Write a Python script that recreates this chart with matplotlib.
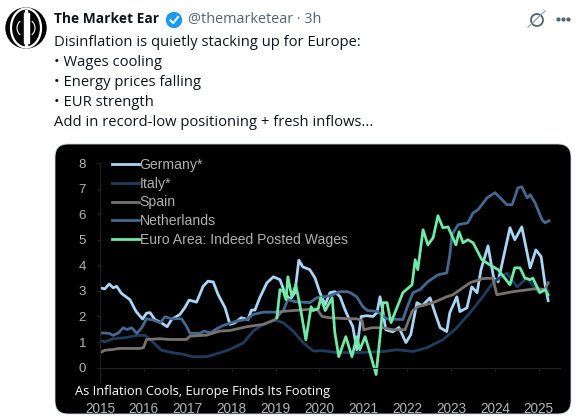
#!/usr/bin/env python3
"""Tweet screenshot with a wage growth chart for Europe."""

import matplotlib
matplotlib.use("Agg")
import matplotlib.pyplot as plt
from matplotlib.patches import Arc, Circle, Ellipse, FancyBboxPatch, Rectangle

W, H = 588, 418

tweet_lines = [
    "Disinflation is quietly stacking up for Europe:",
    "• Wages cooling",
    "• Energy prices falling",
    "• EUR strength",
    "Add in record-low positioning + fresh inflows...",
]
y_ticks = [0, 1, 2, 3, 4, 5, 6, 7, 8]
x_ticks = [2015, 2016, 2017, 2018, 2019, 2020, 2021, 2022, 2023, 2024, 2025]

germany_x = [2015.00, 2015.11, 2015.21, 2015.30, 2015.38, 2015.49, 2015.68, 2015.82, 2015.97,
             2016.06, 2016.14, 2016.25, 2016.40, 2016.53, 2016.63, 2016.82, 2016.93, 2017.03,
             2017.20, 2017.35, 2017.46, 2017.58, 2017.69, 2017.85, 2017.96, 2018.07, 2018.22,
             2018.37, 2018.45, 2018.53, 2018.64, 2018.80, 2018.95, 2019.10, 2019.21, 2019.33,
             2019.44, 2019.53, 2019.62, 2019.78, 2019.90, 2020.01, 2020.13, 2020.24, 2020.35,
             2020.47, 2020.58, 2020.65, 2020.76, 2020.85, 2020.95, 2021.08, 2021.22, 2021.31,
             2021.38, 2021.45, 2021.51, 2021.67, 2021.81, 2021.97, 2022.08, 2022.22, 2022.34,
             2022.52, 2022.63, 2022.75, 2022.90, 2022.97, 2023.13, 2023.20, 2023.36, 2023.47,
             2023.59, 2023.68, 2023.84, 2023.97, 2024.07, 2024.34, 2024.45, 2024.61, 2024.80,
             2024.93, 2025.05, 2025.14, 2025.21]
germany_y = [3.12, 3.08, 3.27, 3.12, 3.18, 2.90, 2.66, 2.20, 1.90,
             2.13, 2.15, 1.88, 1.75, 1.60, 1.88, 2.08, 2.34, 2.64,
             2.56, 3.18, 3.38, 3.35, 2.86, 2.34, 1.69, 1.75, 1.95,
             1.88, 2.25, 2.25, 2.73, 3.31, 3.55, 3.44, 2.93, 2.66,
             2.93, 4.20, 3.94, 3.83, 3.50, 2.93, 2.46, 2.93, 2.97,
             2.77, 2.27, 2.00, 1.60, 0.70, 2.00, 2.03, 2.00, 2.15,
             2.77, 2.15, 1.48, 1.40, 1.57, 0.98, 1.29, 2.54, 2.42,
             2.73, 2.15, 1.56, 1.41, 2.15, 2.77, 2.19, 2.34, 3.16,
             2.93, 3.83, 4.76, 3.50, 3.36, 5.47, 5.00, 5.50, 3.90,
             4.60, 4.34, 3.24, 2.62]

italy_x = [2015.00, 2015.11, 2015.30, 2015.57, 2015.84, 2016.03, 2016.18, 2016.40, 2016.67,
           2016.90, 2017.13, 2017.43, 2017.73, 2017.96, 2018.27, 2018.49, 2018.72, 2018.99,
           2019.18, 2019.40, 2019.63, 2019.86, 2020.08, 2020.40, 2020.92, 2021.45, 2021.77,
           2022.13, 2022.45, 2022.81, 2023.13, 2023.43, 2023.72, 2023.95, 2024.27, 2024.50,
           2024.73, 2024.98, 2025.21]
italy_y = [1.06, 1.01, 1.13, 1.17, 1.26, 1.26, 1.04, 0.68, 0.58,
           0.52, 0.42, 0.43, 0.58, 0.71, 0.97, 1.43, 1.69, 1.86,
           1.75, 1.43, 0.97, 0.65, 0.66, 0.59, 0.59, 0.63, 0.70,
           0.63, 0.78, 1.09, 1.56, 2.15, 2.77, 3.32, 3.70, 3.16,
           3.50, 2.97, 3.00]

spain_x = [2015.00, 2015.11, 2015.30, 2015.42, 2015.91, 2015.99, 2016.06, 2016.37, 2016.59,
           2016.97, 2017.05, 2017.43, 2017.73, 2017.96, 2018.34, 2018.72, 2018.99, 2019.14,
           2019.40, 2019.94, 2020.06, 2020.24, 2020.65, 2020.85, 2020.97, 2021.01, 2021.20,
           2021.45, 2021.67, 2021.95, 2022.11, 2022.24, 2022.59, 2022.90, 2023.04, 2023.43,
           2023.72, 2023.95, 2024.04, 2024.41, 2024.95, 2025.14, 2025.21]
spain_y = [0.58, 0.68, 0.71, 0.75, 0.75, 0.78, 1.10, 1.13, 1.10,
           1.10, 1.23, 1.27, 1.43, 1.45, 1.60, 1.69, 1.88, 2.20,
           2.23, 2.30, 2.00, 1.95, 1.91, 1.91, 1.84, 1.48, 1.56,
           1.56, 1.48, 1.48, 2.20, 2.38, 2.54, 2.77, 2.85, 3.32,
           3.48, 3.50, 2.85, 2.97, 3.09, 3.05, 3.32]

netherlands_x = [2015.00, 2015.21, 2015.30, 2015.42, 2015.53, 2015.62, 2015.72, 2015.84, 2015.95,
                 2016.06, 2016.21, 2016.37, 2016.48, 2016.63, 2016.86, 2016.97, 2017.05, 2017.28,
                 2017.37, 2017.51, 2017.66, 2017.81, 2018.11, 2018.34, 2018.49, 2018.72, 2019.02,
                 2019.17, 2019.28, 2019.44, 2019.62, 2019.78, 2019.94, 2020.24, 2020.47, 2020.63,
                 2020.70, 2020.85, 2020.99, 2021.10, 2021.31, 2021.42, 2021.54, 2021.90, 2022.02,
                 2022.13, 2022.29, 2022.47, 2022.70, 2022.90, 2022.97, 2023.02, 2023.16, 2023.38,
                 2023.50, 2023.61, 2023.82, 2024.00, 2024.27, 2024.39, 2024.52, 2024.61, 2024.73,
                 2024.80, 2024.91, 2025.07, 2025.14, 2025.23]
netherlands_y = [1.36, 1.34, 1.26, 1.36, 1.56, 1.49, 1.56, 1.34, 1.56,
                 1.91, 1.86, 1.75, 1.99, 1.91, 1.91, 1.62, 1.34, 1.34,
                 1.43, 1.36, 1.52, 1.65, 1.82, 1.88, 2.08, 2.17, 2.17,
                 2.20, 2.66, 2.58, 2.56, 2.54, 2.73, 2.81, 2.97, 2.97,
                 2.93, 2.77, 2.38, 2.23, 2.20, 2.07, 1.90, 1.88, 2.46,
                 2.93, 3.05, 3.36, 3.63, 3.70, 4.41, 5.20, 5.59, 5.66,
                 6.05, 6.17, 6.64, 6.84, 6.37, 6.37, 7.03, 7.07, 6.64,
                 6.76, 6.45, 5.78, 5.66, 5.74]

euro_x = [2019.03, 2019.10, 2019.17, 2019.24, 2019.28, 2019.37, 2019.46, 2019.56, 2019.69,
          2019.81, 2019.85, 2019.97, 2020.03, 2020.13, 2020.29, 2020.35, 2020.44, 2020.60,
          2020.74, 2020.85, 2020.92, 2021.04, 2021.13, 2021.29, 2021.38, 2021.45, 2021.54,
          2021.63, 2021.90, 2022.11, 2022.18, 2022.24, 2022.36, 2022.47, 2022.59, 2022.70,
          2022.81, 2022.93, 2023.11, 2023.18, 2023.27, 2023.38, 2023.50, 2023.70, 2023.88,
          2024.07, 2024.34, 2024.45, 2024.57, 2024.68, 2024.80, 2024.86, 2025.02, 2025.14,
          2025.21]
euro_y = [1.95, 3.05, 3.00, 2.66, 3.55, 2.77, 3.24, 2.38, 1.09,
          2.38, 2.23, 2.30, 2.73, 2.23, 2.73, 1.37, 0.43, 1.21,
          0.43, 1.21, 0.70, 1.21, 0.70, -0.27, 1.21, 2.54, 2.54,
          1.76, 2.93, 3.24, 4.22, 3.83, 5.39, 4.80, 5.08, 5.94,
          5.47, 5.50, 4.80, 5.31, 4.88, 5.00, 4.88, 4.22, 4.02,
          3.83, 3.24, 3.90, 3.90, 3.50, 3.44, 3.50, 2.93, 3.05,
          2.85]

TWEET_FONT = ["Open Sans", "DejaVu Sans"]


def draw_avatar(bg):
    """Black round logo with the white column and arcs."""
    bg.add_patch(Circle((26, 28), 20, color="black", zorder=2))
    bg.add_patch(Ellipse((26, 28), 30, 39, fill=False, ec="white", lw=1.6, zorder=3))
    bg.add_patch(Rectangle((23.5, 13), 5, 30, color="white", zorder=3))
    bg.add_patch(Rectangle((24.8, 9.5), 2.4, 37, color="white", zorder=3))
    bg.add_patch(Arc((26, 28), 18, 18, theta1=130, theta2=230, ec="white", lw=0.8, zorder=3))
    bg.add_patch(Arc((26, 28), 18, 18, theta1=-50, theta2=50, ec="white", lw=0.8, zorder=3))


def draw_header(bg):
    """Avatar, name line, icons and tweet text, in pixel coordinates."""
    draw_avatar(bg)

    bg.text(54, 19, "The Market Ear", family=TWEET_FONT, fontsize=9.9, fontweight="bold",
            color="#0f1419", va="center")
    bg.add_patch(Circle((174, 20), 7.5, color="#1d9bf0", zorder=2))
    bg.plot([170.5, 173.3, 178], [20.3, 23, 17], color="white", lw=1.4, zorder=3)
    bg.text(188, 19, "@themarketear · 3h", family=TWEET_FONT, fontsize=10.4,
            color="#536471", va="center")

    # Grok style slashed circle and the three dots
    bg.add_patch(Circle((537, 20), 6, fill=False, ec="#536471", lw=1.3))
    bg.plot([528, 545], [27, 11], color="#8b98a5", lw=0.8)
    bg.scatter([558, 563, 568], [19, 19, 19], s=4, color="#536471")

    for i, line in enumerate(tweet_lines):
        bg.text(54, 43 + i * 20, line, family=TWEET_FONT, fontsize=10.6, color="#0f1419",
                va="center")


def draw_chart(ax):
    """The wage series on the black panel."""
    ax.plot(germany_x, germany_y, color="#a9d5f7", lw=2.0, label="Germany*")
    ax.plot(italy_x, italy_y, color="#1e3d5c", lw=2.0, label="Italy*")
    ax.plot(netherlands_x, netherlands_y, color="#44688f", lw=2.0, label="Netherlands")
    ax.plot(spain_x, spain_y, color="#77726e", lw=2.0, label="Spain")
    ax.plot(euro_x, euro_y, color="#70e8a6", lw=2.0, label="Euro Area: Indeed Posted Wages")

    ax.set_xlim(2015, 2025.48)
    ax.set_ylim(-1.5, 8)
    ax.patch.set_alpha(0)
    for name in ("top", "right"):
        ax.spines[name].set_visible(False)
    ax.spines["left"].set_color("#222222")
    ax.spines["left"].set_bounds(-0.55, 8)
    ax.spines["bottom"].set_position(("data", 0))
    ax.spines["bottom"].set_color("#222222")

    ax.set_xticks(x_ticks)
    ax.set_yticks(y_ticks)
    ax.tick_params(axis="x", colors="#222222", length=2, direction="out", pad=23,
                   labelcolor="#b4b4b4", labelsize=9.8)
    ax.tick_params(axis="y", colors="#222222", length=2, pad=8,
                   labelcolor="#b4b4b4", labelsize=9.6)
    for label in ax.get_xticklabels() + ax.get_yticklabels():
        label.set_family("Liberation Sans")

    handles, labels = ax.get_legend_handles_labels()
    order = [0, 1, 3, 2, 4]
    leg = ax.legend([handles[i] for i in order], [labels[i] for i in order],
                    loc="upper left", bbox_to_anchor=(0.026, 1.022), frameon=False,
                    prop={"family": "Liberation Sans", "size": 10.1},
                    handlelength=1.93, handletextpad=0.05, labelspacing=0.35,
                    borderaxespad=0, borderpad=0)
    for text in leg.get_texts():
        text.set_color("#b0b0b0")


def main():
    plt.rcParams["axes.unicode_minus"] = False
    fig = plt.figure(figsize=(W / 100, H / 100), dpi=100, facecolor="white")

    bg = fig.add_axes([0, 0, 1, 1])
    bg.set_xlim(0, W)
    bg.set_ylim(H, 0)
    bg.axis("off")
    draw_header(bg)

    bg.add_patch(FancyBboxPatch((68, 157), 490, 244, boxstyle="round,pad=13,rounding_size=13",
                                fc="black", ec="#cfd9de", lw=0.6))
    bg.text(75, 391, "As Inflation Cools, Europe Finds Its Footing", family=TWEET_FONT,
            fontsize=9.3, color="white", va="center", zorder=5)

    # axes box in pixels: x 100..560, y 163..406
    ax = fig.add_axes([100 / W, 1 - 406 / H, 460 / W, 243 / H])
    draw_chart(ax)

    fig.savefig("out.png", dpi=100)
    plt.close(fig)


if __name__ == "__main__":
    main()
